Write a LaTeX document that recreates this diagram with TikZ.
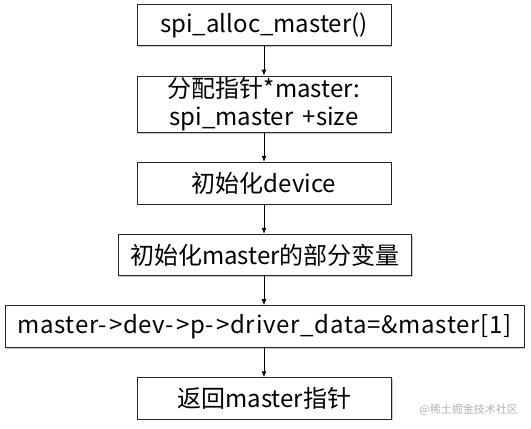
\documentclass[tikz,border=0pt]{standalone}
\usepackage{fontspec}
\setmainfont{Noto Sans CJK SC}
\usetikzlibrary{arrows.meta,shadows}
\begin{document}
\begin{tikzpicture}[x=1pt,y=-1pt,
  stepbox/.style={draw=black!85, line width=1pt, fill=white, inner sep=0pt,
    align=center, font=\fontsize{24}{28}\selectfont,
    drop shadow={shadow xshift=1.2pt, shadow yshift=-1.2pt, fill=black!35, opacity=0.6}},
  flow/.style={draw=black, line width=0.9pt, -{Latex[length=6pt,width=5pt]}}]
\useasboundingbox (0,0) rectangle (531,429);
\node[stepbox, minimum width=254pt, minimum height=41.2pt] (b1) at (264,25.1) {spi\_alloc\_master()};
\node[stepbox, minimum width=254pt, minimum height=56.3pt] (b2) at (264,104.2) {分配指针*master:\\spi\_master \,+size};
\node[stepbox, minimum width=254pt, minimum height=41.7pt] (b3) at (264,183.2) {初始化device};
\node[stepbox, minimum width=293.7pt, minimum height=41.4pt] (b4) at (264.9,255) {初始化master的部分变量};
\node[stepbox, minimum width=519pt, minimum height=41.6pt] (b5) at (264.5,326.5) {\addfontfeature{LetterSpace=3}master-\kern2pt>dev-\kern2pt>p-\kern2pt>driver\_data=\&master[1]};
\node[stepbox, minimum width=254.7pt, minimum height=41.3pt] (b6) at (264.4,398.4) {返回master指针};
\draw[flow] (b1.south) -- (b2.north);
\draw[flow] (b2.south) -- (b3.north);
\draw[flow] (b3.south) -- (b3.south |- b4.north);
\draw[flow] (b4.south -| b3.south) -- (b3.south |- b5.north);
\draw[flow] (b5.south -| b3.south) -- (b3.south |- b6.north);
\node[anchor=base east, text=black!30, font=\fontsize{11}{11}\selectfont, inner sep=0pt] (wm) at (518,413.5) {@稀土掘金技术社区};
\end{tikzpicture}
\end{document}
